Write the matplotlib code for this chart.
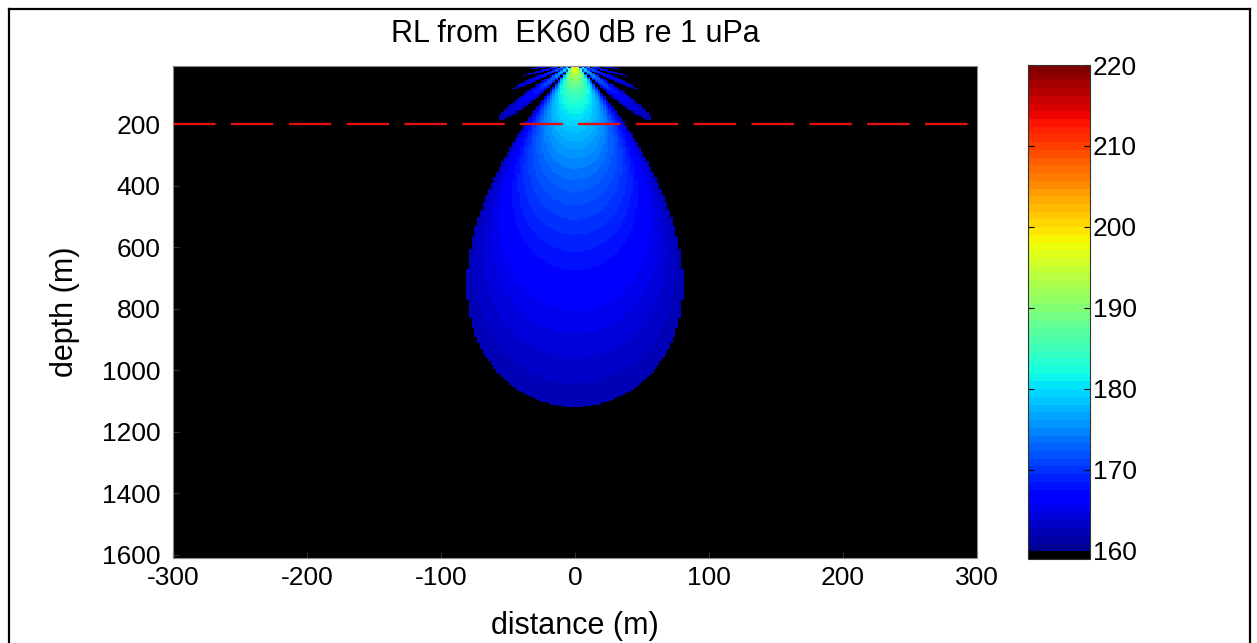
import numpy as np
import matplotlib
matplotlib.use('Agg')
import matplotlib.pyplot as plt
from matplotlib.colors import ListedColormap, Normalize

plt.rcParams['font.family'] = ['Liberation Sans', 'DejaVu Sans']
plt.rcParams['axes.unicode_minus'] = False

# model parameters
source_level = 226.0      # dB re 1 uPa @ 1 m
alpha = 0.0027            # absorption dB/m
ka = 18.1                 # piston size (k*a)
threshold = 162.0         # below this -> black
clim = [159, 220]
line_depth = 200          # red dashed line

x_ticks = [-300, -200, -100, 0, 100, 200, 300]
y_ticks = [200, 400, 600, 800, 1000, 1200, 1400, 1600]
cb_ticks = [160, 170, 180, 190, 200, 210, 220]

# grid
xs = np.arange(-300, 301, 2.0)
zs = np.arange(10, 1611, 4.0)
X, Z = np.meshgrid(xs, zs)
r = np.sqrt(X**2 + Z**2)
u = ka * np.abs(X) / r

# Bessel J1 via table + integral
u_tab = np.linspace(0, ka, 3001)
tau = np.linspace(0, np.pi, 401)
j1_tab = np.trapezoid(np.cos(tau[None, :] - u_tab[:, None] * np.sin(tau[None, :])), tau, axis=1) / np.pi
j1 = np.interp(u, u_tab, j1_tab)
with np.errstate(divide='ignore', invalid='ignore'):
    D = np.where(u > 1e-9, 2 * j1 / u, 1.0)
    B = 20 * np.log10(np.abs(D) + 1e-12)

RL = source_level - 20 * np.log10(r) - alpha * r + B
RL[RL < threshold] = np.nan

cols = plt.cm.jet(np.linspace(0, 1, 64))
cols[0] = [0, 0, 0, 1]
cmap = ListedColormap(cols)
cmap.set_bad('black')

fig = plt.figure(figsize=(12.57, 6.43), dpi=100)
ax = fig.add_axes([0.1376, 0.1322, 0.6396, 0.7652])
im = ax.imshow(RL, cmap=cmap, norm=Normalize(clim[0], clim[1]), aspect='auto',
               interpolation='nearest', origin='upper',
               extent=[xs[0] - 1, xs[-1] + 1, zs[-1] + 2, zs[0] - 2])
ax.set_facecolor('black')
ax.plot([-300, 300], [line_depth, line_depth], color='#e01010', lw=1.7, dashes=(18, 6.5))
ax.set_xlim(-300, 300)
ax.set_ylim(1610, 10)
ax.set_xticks(x_ticks)
ax.set_yticks(y_ticks)
ax.tick_params(direction='in', labelsize=19, length=4, color='#333333')
ax.tick_params(axis='y', pad=9)
ax.tick_params(axis='x', pad=6)
for s in ax.spines.values():
    s.set_color('#888888')
ax.set_xlabel('distance (m)', fontsize=22, labelpad=15)
ax.set_ylabel('depth (m)', fontsize=22, labelpad=16)
ax.set_title('RL from  EK60 dB re 1 uPa', fontsize=22, pad=17)

cax = fig.add_axes([0.8178, 0.1306, 0.0493, 0.7683])
cb = fig.colorbar(im, cax=cax)
cb.set_ticks(cb_ticks)
cax.tick_params(direction='in', labelsize=19, length=4, left=True, right=True, pad=2)
cb.outline.set_edgecolor('#333333')

# figure frame
H = 643.0
W = 1257.0
fig.add_artist(plt.Line2D([9 / W, 9 / W], [0, 1 - 9 / H], color='black', lw=1.6, transform=fig.transFigure))
fig.add_artist(plt.Line2D([9 / W, 1250 / W], [1 - 9 / H, 1 - 9 / H], color='black', lw=1.6, transform=fig.transFigure))
fig.add_artist(plt.Line2D([1250 / W, 1250 / W], [1 - 9 / H, 0], color='black', lw=1.6, transform=fig.transFigure))

fig.savefig('out.png', dpi=100, facecolor='white')
